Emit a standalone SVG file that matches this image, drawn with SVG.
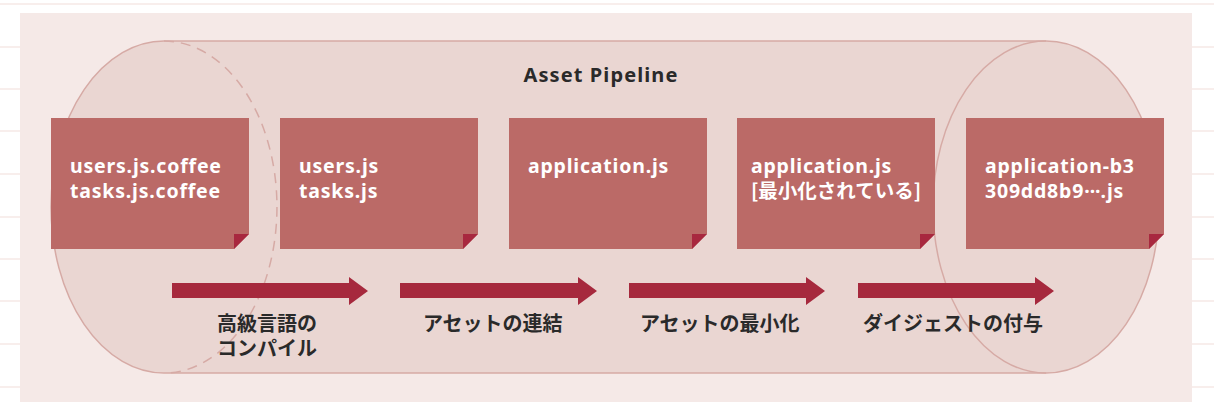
<svg xmlns="http://www.w3.org/2000/svg" width="1214" height="410" viewBox="0 0 1214 410">
<style>
.bg-line{stroke:#f6e8e6;stroke-width:1.5}
.cyl{fill:#ead6d2}
.edge{fill:none;stroke:#d6aaa5;stroke-width:1.5}
.dash{fill:none;stroke:#d6aaa5;stroke-width:1.5;stroke-dasharray:10 7}
.box{fill:#bb6a67}
.fold{fill:#a8283f}
.btxt{font-family:"Noto Sans","Noto Sans CJK JP",sans-serif;font-weight:700;font-size:19.5px;letter-spacing:0.8px;fill:#ffffff}
.jp{font-family:"Noto Sans CJK JP",sans-serif;letter-spacing:0}
.dots{letter-spacing:0}
.arrow{fill:#a6293d}
.lbl{font-family:"Noto Sans CJK JP","Noto Sans",sans-serif;font-weight:700;font-size:20px;fill:#2a2a2a}
.title{font-family:"Noto Sans","Noto Sans CJK JP",sans-serif;font-weight:700;font-size:20px;letter-spacing:1.1px;fill:#2a2a2a}
</style>
<rect x="0" y="0" width="1214" height="410" fill="#ffffff"/>
<g id="page-lines">
<line class="bg-line" x1="0" y1="4" x2="1214" y2="4"/>
<line class="bg-line" x1="0" y1="47" x2="1214" y2="47"/>
<line class="bg-line" x1="0" y1="89" x2="1214" y2="89"/>
<line class="bg-line" x1="0" y1="131" x2="1214" y2="131"/>
<line class="bg-line" x1="0" y1="174" x2="1214" y2="174"/>
<line class="bg-line" x1="0" y1="217" x2="1214" y2="217"/>
<line class="bg-line" x1="0" y1="259" x2="1214" y2="259"/>
<line class="bg-line" x1="0" y1="301" x2="1214" y2="301"/>
<line class="bg-line" x1="0" y1="344" x2="1214" y2="344"/>
<line class="bg-line" x1="0" y1="387" x2="1214" y2="387"/>
</g>
<rect id="panel" x="20" y="13" width="1172" height="389" fill="#f5e9e7"/>
<g id="cylinder">
<path class="cyl" d="M164,41 L1046,41 A113,166 0 0 1 1046,373 L164,373 A113,166 0 0 1 164,41 Z"/>
<path class="edge" d="M164,41 L1046,41 M164,373 L1046,373"/>
<path class="edge" d="M164,41 A113,166 0 0 0 164,373"/>
<path class="dash" d="M164,41 A113,166 0 0 1 164,373"/>
<ellipse class="edge" cx="1046" cy="207" rx="113" ry="166"/>
</g>
<text class="title" x="601" y="82" text-anchor="middle">Asset Pipeline</text>
<g id="node-coffee">
<path class="box" d="M51,118 H249 V234 L234,249 H51 Z"/>
<path class="fold" d="M234,234 H249 L234,249 Z"/>
<text class="btxt" x="70" y="173">users.js.coffee</text>
<text class="btxt" x="70" y="198">tasks.js.coffee</text>
</g>
<g id="node-js">
<path class="box" d="M280,118 H478 V234 L463,249 H280 Z"/>
<path class="fold" d="M463,234 H478 L463,249 Z"/>
<text class="btxt" x="299" y="173">users.js</text>
<text class="btxt" x="299" y="198">tasks.js</text>
</g>
<g id="node-app">
<path class="box" d="M509,118 H707 V234 L692,249 H509 Z"/>
<path class="fold" d="M692,234 H707 L692,249 Z"/>
<text class="btxt" x="528" y="173">application.js</text>
</g>
<g id="node-min">
<path class="box" d="M737,118 H935 V234 L920,249 H737 Z"/>
<path class="fold" d="M920,234 H935 L920,249 Z"/>
<text class="btxt" x="751" y="173">application.js</text>
<text class="btxt jp" x="751" y="198">[最小化されている]</text>
</g>
<g id="node-digest">
<path class="box" d="M966,118 H1164 V234 L1149,249 H966 Z"/>
<path class="fold" d="M1149,234 H1164 L1149,249 Z"/>
<text class="btxt" x="985" y="173">application-b3</text>
<text class="btxt" x="985" y="198">309dd8b9<tspan class="dots">···</tspan>.js</text>
</g>
<g id="connectors">
<path class="arrow" d="M172,283 H349 V277 L368,291 L349,305 V298 H172 Z"/>
<path class="arrow" d="M400,283 H578 V277 L597,291 L578,305 V298 H400 Z"/>
<path class="arrow" d="M629,283 H806 V277 L825,291 L806,305 V298 H629 Z"/>
<path class="arrow" d="M858,283 H1035 V277 L1054,291 L1035,305 V298 H858 Z"/>
</g>
<g id="labels">
<text class="lbl" x="217" y="331">高級言語の</text>
<text class="lbl" x="217" y="356">コンパイル</text>
<text class="lbl" x="423" y="331">アセットの連結</text>
<text class="lbl" x="640" y="331">アセットの最小化</text>
<text class="lbl" x="863" y="331">ダイジェストの付与</text>
</g>
</svg>
